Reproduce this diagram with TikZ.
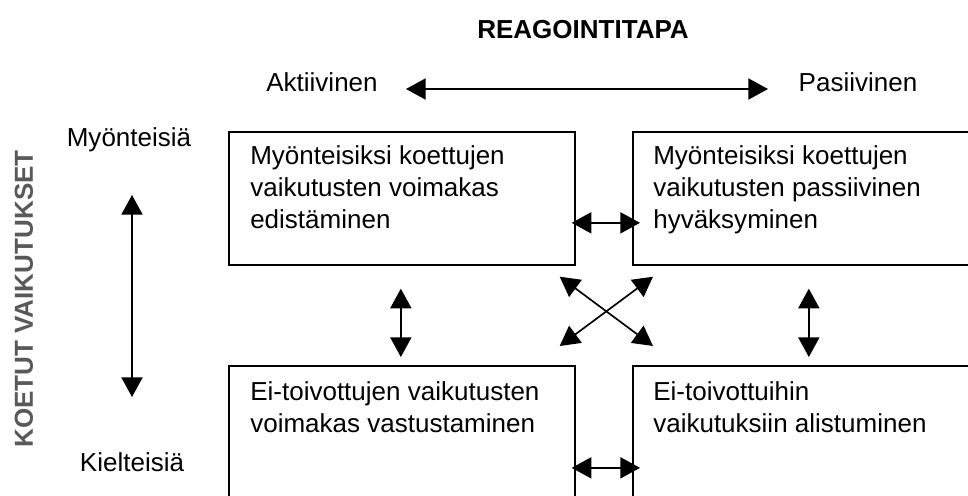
\documentclass[tikz,border=0pt]{standalone}
\usepackage{fontspec}
\setmainfont{Liberation Sans}
\usetikzlibrary{arrows.meta}

\begin{document}
\begin{tikzpicture}[x=0.025cm,y=-0.025cm,
  every node/.style={font=\fontsize{18.5}{22.5}\selectfont},
  box/.style={draw,line width=1.2pt,anchor=north west,minimum width=346*0.025cm,
    minimum height=133*0.025cm,inner sep=0pt},
  boxtext/.style={anchor=base west,align=left,inner sep=0pt},
  dbl/.style={line width=1.2pt,{Triangle[length=14pt,width=15pt]}-{Triangle[length=14pt,width=15pt]}}]
\useasboundingbox (0,0) rectangle (968,495);

% otsikot
\node[font=\fontsize{18.5}{22.5}\selectfont\bfseries] (reag) at (583,30) {REAGOINTITAPA};
\node (akt) at (322,82) {Aktiivinen};
\node (pas) at (858,82) {Pasiivinen};
\node[rotate=90,text=black!65,font=\fontsize{18.5}{22.5}\selectfont\bfseries] (koet) at (24,299) {KOETUT VAIKUTUKSET};
\node (myo) at (129,140) {Myönteisiä};
\node (kie) at (132,462) {Kielteisiä};

% laatikot
\node[box] (tl) at (228,131) {};
\node[box] (tr) at (632,131) {};
\node[box] (bl) at (228,365) {};
\node[box] (br) at (632,365) {};
% (base = viimeisen rivin perusviiva)
\node[boxtext] (tltext) at (250,228) {Myönteisiksi koettujen\\vaikutusten voimakas\\edistäminen};
\node[boxtext] (trtext) at (653,228) {Myönteisiksi koettujen\\vaikutusten passiivinen\\hyväksyminen};
\node[boxtext] (bltext) at (250,432) {Ei-toivottujen vaikutusten\\voimakas vastustaminen};
\node[boxtext] (brtext) at (653,432) {Ei-toivottuihin\\vaikutuksiin alistuminen};

% akselit
\coordinate (ra) at (406,89);
\coordinate (rb) at (768,89);
\coordinate (ka) at (132,195);
\coordinate (kb) at (132,397);
\draw[dbl] (ra) -- (rb);
\draw[dbl] (ka) -- (kb);

% nuolet laatikoiden välillä
\draw[dbl] ([shift={(-4,24.5)}]tl.east) -- ([shift={(8,24.5)}]tr.west);
\draw[dbl] ([shift={(-4,35.5)}]bl.east) -- ([shift={(8,35.5)}]br.west);
\draw[dbl] ([shift={(-1,23)}]tl.south) -- ([shift={(-1,-8)}]bl.north);
\draw[dbl] ([shift={(3,23)}]tr.south) -- ([shift={(3,-8)}]br.north);
\draw[dbl] ([shift={(-16,11)}]tl.south east) -- ([shift={(21,-19)}]br.north west);
\draw[dbl] ([shift={(-16,-19)}]bl.north east) -- ([shift={(21,11)}]tr.south west);
\end{tikzpicture}
\end{document}
